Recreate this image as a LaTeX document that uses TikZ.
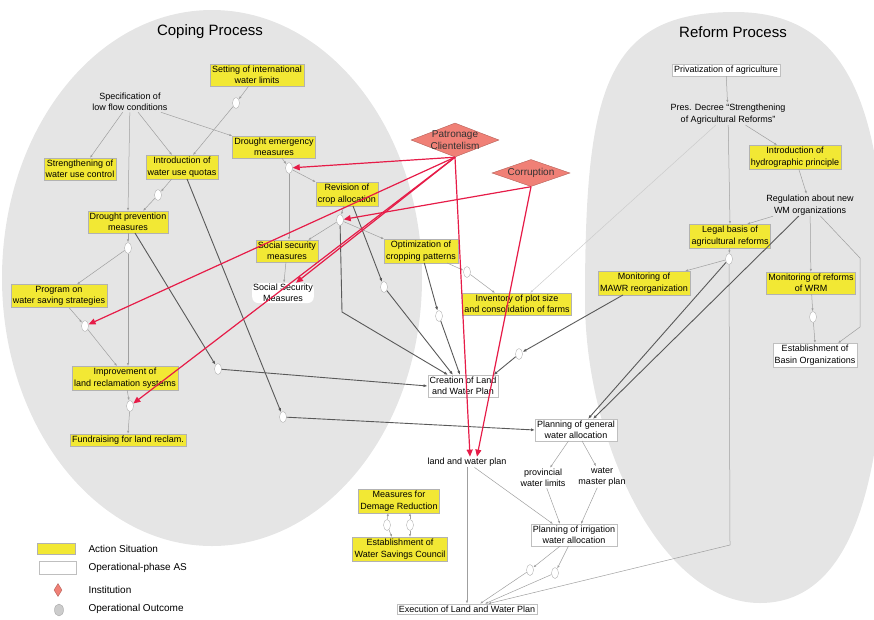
\documentclass[tikz,border=0pt]{standalone}
\usepackage{fontspec}
\setmainfont{Liberation Sans}
\usetikzlibrary{shapes, arrows, arrows.meta}

\definecolor{actionYellow}{RGB}{242,232,52}
\definecolor{instRed}{RGB}{240,128,118}
\definecolor{linkRed}{RGB}{230,28,72}
\definecolor{processGray}{RGB}{229,229,229}

\begin{document}
\begin{tikzpicture}[
    x=1pt, y=-1pt,
    boxFont/.style={font=\fontsize{9}{11.5}\selectfont},
    actionBox/.style={boxFont, draw=gray!60, fill=actionYellow, inner xsep=2pt, inner ysep=1.8pt},
    opBox/.style={boxFont, draw=gray!50, fill=white, inner xsep=2pt, inner ysep=1.8pt},
    plainText/.style={boxFont, inner sep=1pt},
    titleText/.style={font=\fontsize{15}{17}\selectfont},
    legendText/.style={font=\fontsize{10}{12}\selectfont, anchor=west},
    outcome/.style={ellipse, draw=gray!60, fill=white, minimum width=7pt, minimum height=11pt, inner sep=0pt},
    institution/.style={diamond, draw=instRed!75!black, fill=instRed, inner sep=0pt, minimum width=88pt, minimum height=34pt},
    instText/.style={font=\fontsize{10}{11.5}\selectfont, text=black!80},
    thinLink/.style={draw=gray!75, line width=0.5pt, -{Latex[length=3pt, width=2.2pt]}},
    thickLink/.style={draw=black!65, line width=0.9pt, -{Latex[length=4pt, width=3pt]}},
    redLink/.style={draw=linkRed, line width=1.2pt, -{Triangle[length=7pt, width=6pt]}},
    every node/.style={
        text centered,
        align=center,
        }
        ]
    \clip (0,0) rectangle (874,619);

    \fill[processGray] (212,278) ellipse [x radius=210pt, y radius=268pt];
    \fill[processGray] (735,12) .. controls (605,12) and (585,90) .. (585,300) .. controls (585,440) and (660,603) .. (760,603) .. controls (860,603) and (885,460) .. (885,300) .. controls (885,120) and (855,12) .. (735,12);

    \node[titleText] (copingTitle) at (210,32) {Coping Process};
    \node[titleText] (reformTitle) at (733,32) {Reform Process};

    \node[plainText] (lowFlow) at (130,102) {Specification of\\low flow conditions};
    \node[actionBox] (intLimits) at (257,75) {Setting of international\\water limits};
    \node[actionBox] (useControl) at (80,169) {Strengthening of\\water use control};
    \node[actionBox] (quotas) at (182,167) {Introduction of\\water use quotas};
    \node[actionBox] (emergency) at (274,147) {Drought emergency\\measures};
    \node[actionBox] (prevention) at (128,222) {Drought prevention\\measures};
    \node[actionBox] (savingProg) at (59,296) {Program on\\water saving strategies};
    \node[actionBox] (reclamation) at (125,378) {Improvement of\\land reclamation systems};
    \node[actionBox] (fundraising) at (128,440) {Fundraising for land reclam.};
    \node[actionBox] (cropAlloc) at (347,194) {Revision of\\crop allocation};
    \node[actionBox] (socialAS) at (287,251) {Social security\\measures};
    \node[plainText, fill=white, rounded corners=6pt] (socialOut) at (283,293) {Social Security\\Measures};
    \node[actionBox] (cropPattern) at (421,251) {Optimization of\\cropping patterns};
    \node[actionBox] (plotSize) at (517,304) {Inventory of plot size\\and consolidation of farms};

    \node[institution] (patronage) at (455,140) {};
    \node[instText] (patronageText) at (patronage) {Patronage\\Clientelism};
    \node[institution, minimum width=78pt, minimum height=27pt] (corruption) at (531,173) {};
    \node[instText] (corruptionText) at (corruption) {Corruption};

    \node[opBox] (lwCreation) at (463,386) {Creation of Land\\and Water Plan};
    \node[opBox] (generalAlloc) at (576,430) {Planning of general\\water allocation};
    \node[plainText] (lwPlan) at (467,462) {land and water plan};
    \node[plainText] (provLimits) at (543,478) {provincial\\water limits};
    \node[plainText] (masterPlan) at (602,477) {water\\master plan};
    \node[opBox] (irrigAlloc) at (574,535) {Planning of irrigation\\water allocation};
    \node[opBox] (lwExecution) at (467,609) {Execution of Land and Water Plan};
    \node[actionBox] (damage) at (399,501) {Measures for\\Demage Reduction};
    \node[actionBox] (savingsCouncil) at (400,549) {Establishment of\\Water Savings Council};

    \node[opBox] (privat) at (726,70) {Privatization of agriculture};
    \node[plainText] (decree) at (728,114) {Pres. Decree ``Strengthening\\of Agricultural Reforms''};
    \node[actionBox] (hydro) at (795,157) {Introduction of\\hydrographic principle};
    \node[plainText] (wmRegul) at (810,205) {Regulation about new\\WM organizations};
    \node[actionBox] (legalBasis) at (730,236) {Legal basis of\\agricultural reforms};
    \node[actionBox] (mawr) at (644,283) {Monitoring of\\MAWR reorganization};
    \node[actionBox] (wrm) at (811,283) {Monitoring of reforms\\of WRM};
    \node[opBox] (basinOrg) at (815,355) {Establishment of\\Basin Organizations};

    \node[outcome] (intOut) at (236,103) {};
    \node[outcome] (quotaOut) at (158,195) {};
    \node[outcome] (quotaOut2) at (283,417) {};
    \node[outcome] (prevOut) at (128,248) {};
    \node[outcome] (prevOut2) at (218,369) {};
    \node[outcome] (progOut) at (85,326) {};
    \node[outcome] (reclOut) at (130,406) {};
    \node[outcome] (emergOut) at (289,168) {};
    \node[outcome] (cropOut) at (340,220) {};
    \node[outcome] (cropOut2) at (384,287) {};
    \node[outcome] (patternOut) at (439,316) {};
    \node[outcome] (patternOut2) at (467,272) {};
    \node[outcome] (mawrOut) at (519,354) {};
    \node[outcome] (legalOut) at (729,259) {};
    \node[outcome] (wrmOut) at (813,317) {};
    \node[outcome] (irrigOut1) at (530,570) {};
    \node[outcome] (irrigOut2) at (555,573) {};
    \node[outcome] (damageOutA) at (387,525) {};
    \node[outcome] (damageOutB) at (410,525) {};

    \draw[thinLink] (lowFlow) -- ([xshift=10pt]useControl.north);
    \draw[thinLink] (lowFlow) -- (prevention.north);
    \draw[thinLink] (lowFlow) -- ([xshift=-10pt]quotas.north);
    \draw[thinLink] (lowFlow) -- (emergency.north west);
    \draw[thinLink] (intLimits) -- (intOut);
    \draw[thinLink] (intOut) -- ([xshift=11pt]quotas.north);
    \draw[thinLink] (quotas) -- (quotaOut);
    \draw[thinLink] (quotaOut) -- ([xshift=15pt]prevention.north);
    \draw[thickLink] ([xshift=5pt]quotas.south) -- (quotaOut2);
    \draw[thickLink] (quotaOut2) -- (generalAlloc.west);
    \draw[thinLink] (prevention) -- (prevOut);
    \draw[thinLink] (prevOut) -- ([xshift=18pt]savingProg.north);
    \draw[thinLink] (prevOut) -- ([xshift=3pt]reclamation.north);
    \draw[thickLink] ([xshift=7pt]prevention.south) -- (prevOut2);
    \draw[thickLink] (prevOut2) -- (lwCreation.west);
    \draw[thinLink] (savingProg) -- (progOut);
    \draw[thinLink] (progOut) -- ([xshift=-8pt]reclamation.north);
    \draw[thinLink] (reclamation) -- (reclOut);
    \draw[thinLink] (reclOut) -- (fundraising.north);

    \draw[thinLink] (emergency) -- (emergOut);
    \draw[thinLink] (emergOut) -- (emergOut |- socialAS.north);
    \draw[thinLink] (emergOut) -- (cropAlloc.north west);
    \draw[thinLink] (socialAS) -- (socialOut);
    \draw[thinLink] (cropAlloc) -- (cropOut);
    \draw[thinLink] (cropOut) -- ([xshift=-10pt]socialAS.north east);
    \draw[thinLink] (cropOut) -- (cropPattern.north west);
    \draw[thickLink] (cropOut) -- (342,312) -- ([xshift=-15pt]lwCreation.north);
    \draw[thickLink] ([xshift=6pt]cropAlloc.south) -- (cropOut2);
    \draw[thickLink] (cropOut2) -- ([xshift=-10pt]lwCreation.north);
    \draw[thickLink] (cropPattern) -- (patternOut);
    \draw[thickLink] (patternOut) -- ([xshift=-3pt]lwCreation.north);
    \draw[thinLink] (cropPattern) -- (patternOut2);
    \draw[thinLink] (patternOut2) -- ([xshift=-22pt]plotSize.north);
    \draw[thinLink, draw=gray!40] (decree) -- ([xshift=13pt]plotSize.north);
    \draw[thickLink] (mawr) -- (mawrOut);
    \draw[thickLink] (mawrOut) -- ([xshift=-5pt]lwCreation.north east);

    \draw[thinLink] (generalAlloc) -- (provLimits);
    \draw[thinLink] (generalAlloc) -- (masterPlan);
    \draw[thinLink] (provLimits) -- ([xshift=-14pt]irrigAlloc.north);
    \draw[thinLink] (masterPlan) -- ([xshift=7pt]irrigAlloc.north);
    \draw[thinLink] (lwPlan) -- ([xshift=-21pt]irrigAlloc.north);
    \draw[thinLink] (irrigAlloc) -- (irrigOut1);
    \draw[thinLink] (irrigAlloc) -- (irrigOut2);
    \draw[thinLink] (irrigOut1) -- ([xshift=13pt]lwExecution.north);
    \draw[thinLink] (irrigOut2) -- ([xshift=18pt]lwExecution.north);
    \draw[thinLink] (lwPlan) -- (lwExecution.north);
    \draw[thinLink] (legalOut) -- (730,545) -- ([xshift=21pt]lwExecution.north);
    \draw[thinLink] (damageOutA) -- ([xshift=-11pt]damage.south);
    \draw[thinLink] (damageOutA) -- ([xshift=-8pt]savingsCouncil.north);
    \draw[thinLink] (damageOutB) -- ([xshift=11pt]damage.south);
    \draw[thinLink] (damageOutB) -- ([xshift=10pt]savingsCouncil.north);

    \draw[thinLink] (privat) -- (decree);
    \draw[thinLink] (decree) -- ([xshift=-18pt]hydro.north);
    \draw[thinLink] (decree) -- (legalBasis.north);
    \draw[thinLink] (hydro) -- (wmRegul);
    \draw[thinLink] (wmRegul) -- ([xshift=17pt]legalBasis.north);
    \draw[thinLink] (wmRegul) -- (wrm);
    \draw[thinLink] (wmRegul) -- (860,258) -- (860,327) -- ([xshift=23pt]basinOrg.north);
    \draw[thinLink] (wrm) -- (wrmOut);
    \draw[thinLink] (wrmOut) -- (basinOrg.north);
    \draw[thinLink] (legalBasis) -- (legalOut);
    \draw[thinLink] (legalOut) -- ([xshift=-5pt]mawr.north east);
    \draw[thickLink] (legalOut) -- ([xshift=12pt]generalAlloc.north);
    \draw[thickLink] (wmRegul) -- ([xshift=17pt]generalAlloc.north);

    \draw[redLink] (patronage.south) -- (emergOut);
    \draw[redLink] (patronage.south) -- (progOut);
    \draw[redLink] (patronage.south) -- (socialOut);
    \draw[redLink] (patronage.south) -- (reclOut);
    \draw[redLink] (patronage.south) -- ([xshift=3pt]lwPlan.north);
    \draw[redLink] (corruption.south) -- (cropOut);
    \draw[redLink] (corruption.south) -- ([xshift=10pt]lwPlan.north);

    \node[actionBox, minimum width=38pt, minimum height=11pt] (legAction) at (56,549) {};
    \node[opBox, minimum width=37pt, minimum height=13pt] (legOp) at (58,568) {};
    \node[diamond, draw=instRed!75!black, fill=instRed, inner sep=0pt, minimum width=8pt, minimum height=13pt] (legInst) at (58,590) {};
    \node[ellipse, draw=gray!70, fill=gray!40, inner sep=0pt, minimum width=9pt, minimum height=12pt] (legOut) at (59,610) {};
    \node[legendText] (legActionText) at (85,549) {Action Situation};
    \node[legendText] (legOpText) at (85,568) {Operational-phase AS};
    \node[legendText] (legInstText) at (85,590) {Institution};
    \node[legendText] (legOutText) at (85,609) {Operational Outcome};
\end{tikzpicture}
\end{document}
